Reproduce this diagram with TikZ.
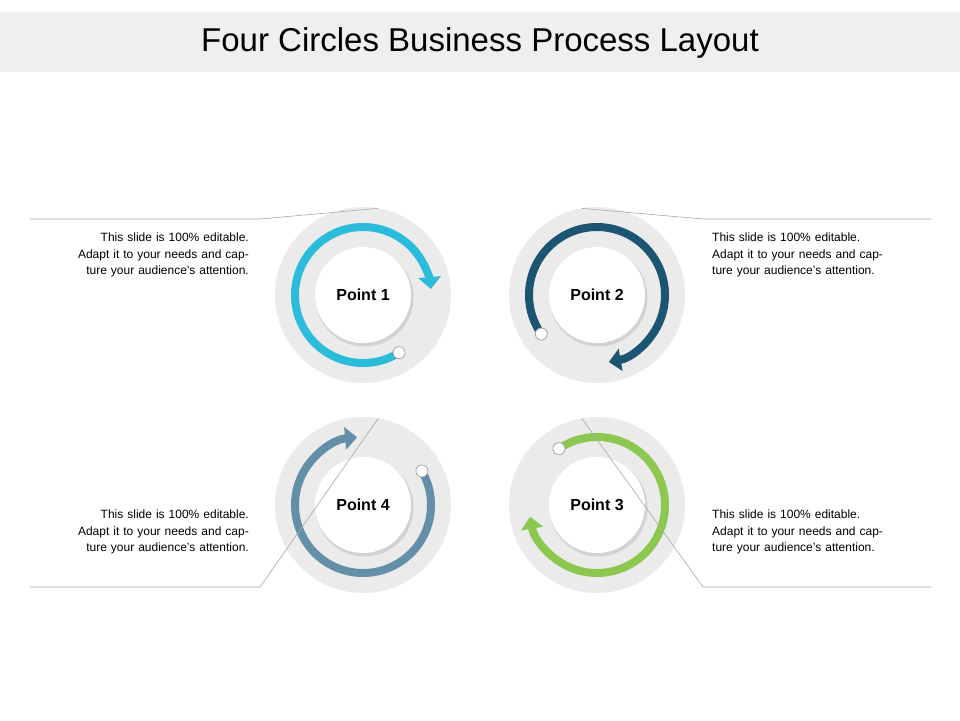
\documentclass[tikz,border=0pt]{standalone}
\usepackage{fontspec}
\setmainfont{Liberation Sans}
\usetikzlibrary{arrows.meta}
\definecolor{cone}{HTML}{2ABCDA}
\definecolor{ctwo}{HTML}{1B5572}
\definecolor{cthree}{HTML}{8CC84F}
\definecolor{cfour}{HTML}{6390A8}
\definecolor{ring}{HTML}{EBEBEB}
\begin{document}
\begin{tikzpicture}[x=1pt,y=-1pt,
      every node/.style = {inner sep=0pt},
              disc/.style = {circle, fill=ring, minimum size=176pt},
              hub/.style = {circle, fill=white, minimum size=96pt, font=\bfseries\fontsize{16}{16}\selectfont},
             flow/.style = {line width=8pt, -{Triangle[length=12pt,width=22pt]}},
              dot/.style = {circle, draw=gray!70, fill=white, line width=0.8pt, minimum size=12pt},
             note/.style = {font=\fontsize{12}{16.5}\selectfont, text width=180pt},
             lead/.style = {draw=gray!70, line width=0.6pt},
                     ]
\useasboundingbox (0,0) rectangle (960,720);
\fill[ring!80] (0,12) rectangle (960,72);
\node (title) at (480,43) {\fontsize{33}{33}\selectfont Four Circles Business Process Layout};
% circles
\foreach \n/\x/\y in {p1/363/295, p2/597/295, p4/363/505, p3/597/505}
    \node[disc] (\n) at (\x,\y) {};
% arrows
\draw[flow, cone]   ([shift={(58:68)}]p1.center) arc[start angle=58, end angle=355, radius=68, x=1pt, y=-1pt];
\draw[flow, ctwo]   ([shift={(145:68)}]p2.center) arc[start angle=145, end angle=440, radius=68];
\draw[flow, cfour]  ([shift={(-30:68)}]p4.center) arc[start angle=-30, end angle=265, radius=68];
\draw[flow, cthree] ([shift={(-124:68)}]p3.center) arc[start angle=-124, end angle=170, radius=68];
\node[dot] (d1) at ([shift={(58:68)}]p1.center) {};
\node[dot] (d2) at ([shift={(145:68)}]p2.center) {};
\node[dot] (d4) at ([shift={(-30:68)}]p4.center) {};
\node[dot] (d3) at ([shift={(-124:68)}]p3.center) {};
% hubs
\foreach \n/\t in {p1/Point 1, p2/Point 2, p4/Point 4, p3/Point 3}{
    \fill[gray!35] ([shift={(1.5,2.5)}]\n.center) circle (49);
    \node[hub] (h\n) at (\n) {\t};
}
% notes
\coordinate (l1a) at (30,219);  \coordinate (l1b) at (260,219);
\coordinate (l2a) at (931,219); \coordinate (l2b) at (703,219);
\coordinate (l4a) at (30,587);  \coordinate (l4b) at (260,587);
\coordinate (l3a) at (931,587); \coordinate (l3b) at (703,587);
\draw[lead] (l1a) -- (l1b) -- ([shift={(-80:88)}]p1.center);
\draw[lead] (l2a) -- (l2b) -- ([shift={(-100:88)}]p2.center);
\draw[lead] (l4a) -- (l4b) -- ([shift={(-80:88)}]p4.center);
\draw[lead] (l3a) -- (l3b) -- ([shift={(-100:88)}]p3.center);
\node[note, align=right, anchor=north east] (t1) at (249,233) {This slide is 100\% editable. Adapt it to your needs and capture your audience's attention.};
\node[note, align=left, anchor=north west] (t2) at (712,233) {This slide is 100\% editable. Adapt it to your needs and capture your audience's attention.};
\node[note, align=right, anchor=north east] (t4) at (249,510) {This slide is 100\% editable. Adapt it to your needs and capture your audience's attention.};
\node[note, align=left, anchor=north west] (t3) at (712,510) {This slide is 100\% editable. Adapt it to your needs and capture your audience's attention.};
\end{tikzpicture}
\end{document}
